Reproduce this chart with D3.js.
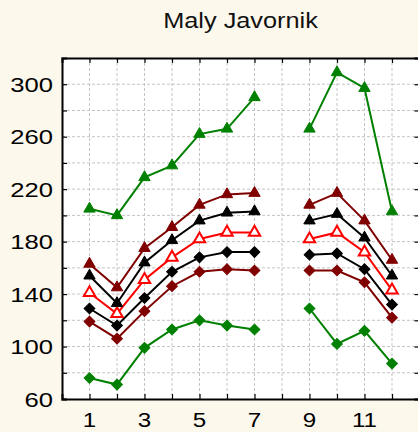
<!DOCTYPE html>
<html>
<head>
<meta charset="utf-8">
<script src="https://cdn.jsdelivr.net/npm/d3@7"></script>
<style>
  body { margin: 0; background: #fdf8ec; }
  svg { display: block; }
</style>
</head>
<body>
<svg id="chart"></svg>
<script>
// months on the x axis (8 is missing in the data)
const months = [1, 2, 3, 4, 5, 6, 7, 8, 9, 10, 11, 12];

// series values per month, null = no value
const maxTri   = [205, 200, 229, 238, 262, 266, 290, null, 266, 309, 297, 203];
const upperTri = [163, 145, 175, 191, 208, 216, 217, null, 208, 217, 196, 166];
const q3Tri    = [154, 133, 164, 181, 196, 202, 203, null, 196, 201, 183, 154];
const meanTri  = [141, 125, 151, 168, 182, 187, 187, null, 182, 187, 172, 143];
const q1Dia    = [129, 116, 137, 157, 168, 172, 172, null, 170, 171, 159, 132];
const lowerDia = [119, 106, 127, 146, 157, 159, 158, null, 158, 158, 149, 122];
const minDia   = [76, 71, 99, 113, 120, 116, 113, null, 129, 102, 112, 87];

const yTicks = [60, 100, 140, 180, 220, 260, 300];
const xTicks = [1, 3, 5, 7, 9, 11];
const title = "Maly Javornik";

const width = 418, height = 432;
const margin = {top: 58, right: -1.5, bottom: 33, left: 62};
const innerW = width - margin.left - margin.right;
const innerH = height - margin.top - margin.bottom;

const svg = d3.select("#chart")
    .attr("width", width)
    .attr("height", height);

const xScale = d3.scaleLinear().domain([0, 13]).range([0, innerW]);
const yScale = d3.scaleLinear().domain([60, 320]).range([innerH, 0]);

const chart = svg.append("g")
    .attr("transform", `translate(${margin.left},${margin.top})`);

// white plot area
chart.append("rect")
    .attr("width", innerW)
    .attr("height", innerH)
    .attr("fill", "#fff");

// grid
const gridY = d3.range(80, 320, 20);
chart.append("g").selectAll("line")
    .data(gridY)
    .join("line")
    .attr("x1", 0).attr("x2", innerW)
    .attr("y1", d => yScale(d)).attr("y2", d => yScale(d))
    .attr("stroke", "#c4c4c4")
    .attr("stroke-dasharray", "3,2");

chart.append("g").selectAll("line")
    .data(months)
    .join("line")
    .attr("x1", d => xScale(d)).attr("x2", d => xScale(d))
    .attr("y1", 0).attr("y2", innerH)
    .attr("stroke", "#c4c4c4")
    .attr("stroke-dasharray", "3,2");

// axes, ticks point inward
const leftAxis = d3.axisRight(yScale).tickValues(d3.range(60, 320, 20)).tickSize(5).tickFormat("");
const rightAxis = d3.axisLeft(yScale).tickValues(d3.range(60, 320, 20)).tickSize(5).tickFormat("");
const bottomAxis = d3.axisTop(xScale).tickValues(months).tickSize(5).tickFormat("");
const topAxis = d3.axisBottom(xScale).tickValues(months).tickSize(5).tickFormat("");

chart.append("g").attr("class", "axis").call(leftAxis);
chart.append("g").attr("class", "axis").attr("transform", `translate(${innerW},0)`).call(rightAxis);
chart.append("g").attr("class", "axis").attr("transform", `translate(0,${innerH})`).call(bottomAxis);
chart.append("g").attr("class", "axis").call(topAxis);

chart.selectAll(".axis path").attr("stroke", "#000").attr("stroke-width", 2);
chart.selectAll(".axis line").attr("stroke", "#000").attr("stroke-width", 1.2);

// tick labels (stretched a bit wider like the original font)
chart.append("g").selectAll("text")
    .data(yTicks)
    .join("text")
    .attr("text-anchor", "end")
    .attr("font-family", "Liberation Sans, Arial, sans-serif")
    .attr("font-size", 21)
    .attr("fill", "#000")
    .attr("transform", d => `translate(-9,${yScale(d) + 7.5}) scale(1.22,1)`)
    .text(d => d);

chart.append("g").selectAll("text")
    .data(xTicks)
    .join("text")
    .attr("text-anchor", "middle")
    .attr("font-family", "Liberation Sans, Arial, sans-serif")
    .attr("font-size", 21)
    .attr("fill", "#000")
    .attr("transform", d => `translate(${xScale(d)},${innerH + 27.5}) scale(1.15,1)`)
    .text(d => d);

svg.append("text")
    .attr("text-anchor", "middle")
    .attr("font-family", "Liberation Sans, Arial, sans-serif")
    .attr("font-size", 22)
    .attr("fill", "#111")
    .attr("transform", `translate(${margin.left + 178.5},28) scale(1.15,1)`)
    .text(title);

// series
const series = [
  {values: minDia,   color: "#008000", shape: "diamond", open: false},
  {values: lowerDia, color: "#800000", shape: "diamond", open: false},
  {values: q1Dia,    color: "#000000", shape: "diamond", open: false},
  {values: meanTri,  color: "#ff0000", shape: "triangle", open: true},
  {values: q3Tri,    color: "#000000", shape: "triangle", open: false},
  {values: upperTri, color: "#800000", shape: "triangle", open: false},
  {values: maxTri,   color: "#008000", shape: "triangle", open: false}
];

const line = d3.line()
    .defined(d => d[1] != null)
    .x(d => xScale(d[0]))
    .y(d => yScale(d[1]));

const triangle = d3.symbol().type(d3.symbolTriangle).size(56);
const diamond = d3.symbol().type(d3.symbolSquare).size(58);

series.forEach(s => {
  const pts = months.map((m, i) => [m, s.values[i]]);

  chart.append("path")
      .datum(pts)
      .attr("fill", "none")
      .attr("stroke", s.color)
      .attr("stroke-width", 2)
      .attr("d", line);

  chart.append("g").selectAll("path")
      .data(pts.filter(d => d[1] != null))
      .join("path")
      .attr("d", s.shape == "triangle" ? triangle : diamond)
      .attr("transform", d => `translate(${xScale(d[0])},${yScale(d[1])})` + (s.shape == "diamond" ? " rotate(45)" : ""))
      .attr("fill", s.open ? "#fff" : s.color)
      .attr("stroke", s.color)
      .attr("stroke-width", s.open ? 2 : 1);
});
</script>
</body>
</html>
